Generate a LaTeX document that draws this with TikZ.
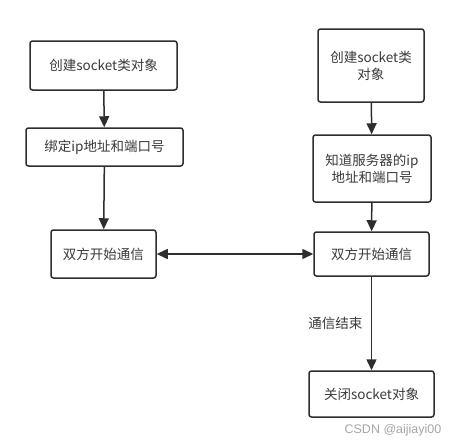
\documentclass[tikz,border=0pt]{standalone}
\usepackage{fontspec}
\setmainfont{Noto Sans CJK SC}
\newfontfamily\markfont{Liberation Sans}
\usetikzlibrary{arrows.meta}
\definecolor{linegray}{HTML}{2E2E2E}
\definecolor{textgray}{HTML}{3A3A3A}

\begin{document}
\begin{tikzpicture}[x=1pt,y=-1pt,
	box/.style={draw=linegray, line width=1.5pt, rounded corners=2.5pt, fill=white,
		inner sep=0pt, align=center, text=textgray, font=\fontsize{13.5}{17}\selectfont},
	flow/.style={draw=linegray, line width=1.5pt, -{Triangle[length=11pt,width=10pt]}},
	both/.style={draw=linegray, line width=1.5pt, {Triangle[length=11pt,width=10pt]}-{Triangle[length=11pt,width=10pt]}}]
	\useasboundingbox[fill=white] (0,0) rectangle (459,447);
	% left column
	\node[box, minimum width=147pt, minimum height=49pt] (lnew) at (103.5,65.5) {创建socket类对象};
	\node[box, minimum width=157pt, minimum height=38pt] (lbind) at (104.5,147) {绑定ip地址和端口号};
	\node[box, minimum width=105pt, minimum height=48pt] (lcomm) at (103.5,254) {双方开始通信};
	% right column
	\node[box, minimum width=106pt, minimum height=73pt] (rnew) at (371,65.5) {创建socket类\\对象};
	\node[box, minimum width=118pt, minimum height=67pt] (rknow) at (372,168.5) {知道服务器的ip\\地址和端口号};
	\node[box, minimum width=115pt, minimum height=44pt] (rcomm) at (371.5,254) {双方开始通信};
	\node[box, minimum width=125pt, minimum height=46pt] (rclose) at (371.5,394) {关闭socket对象};
	\draw[flow] (lnew) -- (lbind);
	\draw[flow] (lbind) -- (lcomm);
	\draw[flow] (rnew) -- (rknow);
	\draw[flow] (rknow) -- (rcomm);
	\draw[flow] (rcomm) -- node[left=5pt, text=textgray, font=\fontsize{13.5}{17}\selectfont]{通信结束} (rclose);
	\draw[both] (lcomm) -- (rcomm);
	\node[text=gray!70, font=\markfont\fontsize{12.5}{15}\selectfont] (csdn) at (393,430) {CSDN @aijiayi00};
\end{tikzpicture}
\end{document}
